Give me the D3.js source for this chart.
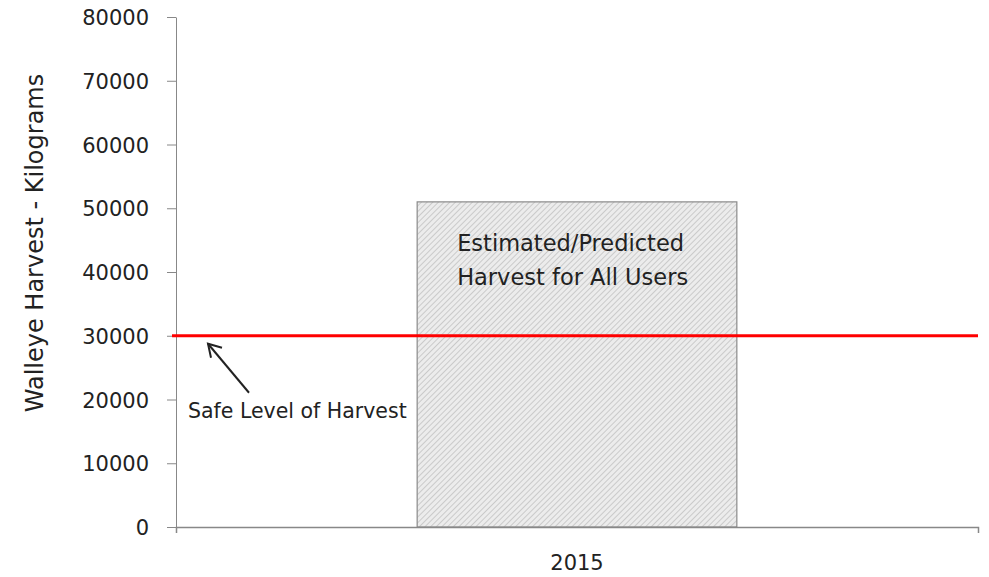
<!doctype html>
<html>
<head>
    <style>
        body { margin: 0; background: #fff; }
        text { font-family: "DejaVu Sans", sans-serif; fill: #222; }
        .axis path, .axis line { stroke: #888; }
    </style>
    <script src="https://d3js.org/d3.v7.min.js"></script>
</head>
<body>
<svg width="989" height="577"></svg>
<script>

    // data
    var categories = ["2015"];
    var harvest = [51000];
    var safeLevel = [30000];
    var yTicks = [0, 10000, 20000, 30000, 40000, 50000, 60000, 70000, 80000];
    var barLabel = ["Estimated/Predicted", "Harvest for All Users"];
    var lineLabel = "Safe Level of Harvest";

    var svg = d3.select("svg"),
        margin = {top: 17, right: 11, bottom: 50, left: 176},
        width = svg.attr("width") - margin.left - margin.right,
        height = svg.attr("height") - margin.top - margin.bottom;

    // hatch fill for the bar
    var pat = svg.append("defs").append("pattern")
        .attr("id", "hatch")
        .attr("patternUnits", "userSpaceOnUse")
        .attr("width", 4).attr("height", 4)
        .attr("patternTransform", "rotate(-45)");
    pat.append("rect").attr("width", 4).attr("height", 4).attr("fill", "#ececec");
    pat.append("line").attr("x1", 0).attr("y1", 0).attr("x2", 4).attr("y2", 0)
        .attr("stroke", "#b4b4b4").attr("stroke-width", 1.2);

    var g = svg.append("g")
        .attr("transform", "translate(" + margin.left + "," + margin.top + ")");

    var x = d3.scaleBand().domain(categories).range([0, width]).padding(0.43);
    var y = d3.scaleLinear().domain([0, 80000]).range([height, 0]);

    // y axis
    var yAxis = g.append("g")
        .attr("class", "axis")
        .call(d3.axisLeft(y).tickValues(yTicks).tickFormat(d3.format("d"))
            .tickSize(9).tickSizeOuter(0).tickPadding(18));
    yAxis.selectAll("text").style("font-size", "21px").attr("dy", "0.36em").attr("fill", "#222");

    // bar
    g.selectAll(".bar")
        .data(harvest)
        .enter().append("rect")
        .attr("class", "bar")
        .attr("x", function(d, i) { return x(categories[i]); })
        .attr("y", function(d) { return y(d); })
        .attr("width", x.bandwidth())
        .attr("height", function(d) { return height - y(d); })
        .attr("fill", "url(#hatch)")
        .attr("stroke", "#8a8a8a")
        .attr("stroke-width", 1.2);

    // x axis
    var xAxis = g.append("g")
        .attr("class", "axis")
        .attr("transform", "translate(0," + height + ")")
        .call(d3.axisBottom(x).tickSize(0).tickSizeOuter(6).tickPadding(28));
    xAxis.selectAll("text").style("font-size", "21px").attr("fill", "#222");
    xAxis.select(".domain").attr("stroke-width", 1.5);

    // safe level line
    g.selectAll(".safe")
        .data(safeLevel)
        .enter().append("line")
        .attr("class", "safe")
        .attr("x1", -4).attr("x2", width)
        .attr("y1", function(d) { return y(d); })
        .attr("y2", function(d) { return y(d); })
        .attr("stroke", "#ff0000")
        .attr("stroke-width", 3);

    // bar label
    var bx = x(categories[0]) + 40;
    g.append("text")
        .attr("x", bx)
        .attr("y", y(harvest[0]) + 49)
        .style("font-size", "22.5px")
        .selectAll("tspan")
        .data(barLabel)
        .enter().append("tspan")
        .attr("x", bx)
        .attr("dy", function(d, i) { return i ? 34 : 0; })
        .text(function(d) { return d; });

    // arrow and label for the safe line
    var ay = y(safeLevel[0]);
    g.append("line")
        .attr("x1", 73).attr("y1", ay + 57)
        .attr("x2", 32).attr("y2", ay + 8)
        .attr("stroke", "#222").attr("stroke-width", 2);
    g.append("path")
        .attr("d", "M" + 46 + "," + (ay + 12) + "L32," + (ay + 8) + "L35," + (ay + 22))
        .attr("fill", "none").attr("stroke", "#222").attr("stroke-width", 2);
    g.append("text")
        .attr("x", 12)
        .attr("y", ay + 82)
        .style("font-size", "20.5px")
        .text(lineLabel);

    // y axis title
    svg.append("text")
        .attr("transform", "translate(43," + 243 + ") rotate(-90)")
        .attr("text-anchor", "middle")
        .style("font-size", "24px")
        .text("Walleye Harvest - Kilograms");

</script>
</body>
</html>
